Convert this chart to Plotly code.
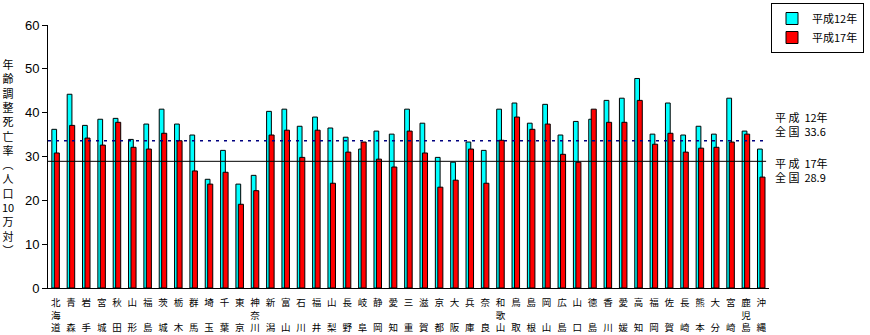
import plotly.graph_objects as go

prefectures = ["北海道", "青森", "岩手", "宮城", "秋田", "山形", "福島", "茨城", "栃木", "群馬",
               "埼玉", "千葉", "東京", "神奈川", "新潟", "富山", "石川", "福井", "山梨", "長野",
               "岐阜", "静岡", "愛知", "三重", "滋賀", "京都", "大阪", "兵庫", "奈良", "和歌山",
               "鳥取", "島根", "岡山", "広島", "山口", "徳島", "香川", "愛媛", "高知", "福岡",
               "佐賀", "長崎", "熊本", "大分", "宮崎", "鹿児島", "沖縄"]

h12 = [36.2, 44.2, 37.1, 38.5, 38.7, 33.9, 37.4, 40.8, 37.4, 34.9,
       24.8, 31.4, 23.7, 25.7, 40.3, 40.8, 36.9, 39.0, 36.5, 34.4,
       31.7, 35.8, 35.1, 40.8, 37.6, 29.8, 28.7, 33.3, 31.4, 40.8,
       42.2, 37.6, 41.9, 34.9, 38.0, 38.5, 42.8, 43.3, 47.8, 35.1,
       42.2, 34.9, 36.9, 35.1, 43.3, 35.8, 31.7]

h17 = [30.8, 37.1, 34.2, 32.6, 37.8, 32.1, 31.7, 35.3, 33.6, 26.7,
       23.7, 26.4, 19.1, 22.2, 34.9, 36.0, 29.8, 36.0, 23.9, 31.0,
       33.3, 29.4, 27.6, 35.8, 30.8, 23.0, 24.6, 31.7, 23.9, 33.7,
       39.0, 36.2, 37.4, 30.5, 28.7, 40.8, 37.8, 37.8, 42.8, 32.8,
       35.3, 31.0, 31.9, 32.1, 33.3, 35.1, 25.3]

national_12 = 33.6
national_17 = 28.9

series_names = ["平成12年", "平成17年"]
y_title_chars = ["年", "齢", "調", "整", "死", "亡", "率", "︵", "人", "口", "10", "万", "対", "︶"]


def vertical_label(name):
    if len(name) == 2:
        return name[0] + "<br>　<br>" + name[1]
    return "<br>".join(name)


tick_text = [vertical_label(p) for p in prefectures]
xs = list(range(len(prefectures)))

fig = go.Figure()
fig.add_trace(go.Bar(x=xs, y=h12, name=series_names[0], marker=dict(color="#00FFFF", line=dict(color="black", width=1)),
                     width=0.31, offset=-0.25))
fig.add_trace(go.Bar(x=xs, y=h17, name=series_names[1], marker=dict(color="#FF0000", line=dict(color="black", width=1)),
                     width=0.33, offset=-0.09))

fig.add_shape(type="line", xref="paper", yref="y", x0=0, x1=0.996, y0=national_12, y1=national_12,
              line=dict(color="#000080", width=1.5, dash="3px,5px"))
fig.add_shape(type="line", xref="paper", yref="y", x0=0, x1=0.996, y0=national_17, y1=national_17,
              line=dict(color="black", width=1))

cjk = "Noto Sans CJK JP"
fig.add_annotation(xref="paper", yref="y", x=1.006, y=national_12, xanchor="left", yanchor="bottom", yshift=0,
                   text=f"平 成  12年<br>全 国  {national_12}", showarrow=False, align="left",
                   font=dict(family=cjk, size=11, color="black"))
fig.add_annotation(xref="paper", yref="y", x=1.006, y=national_17, xanchor="left", yanchor="top", yshift=8,
                   text=f"平 成  17年<br>全 国  {national_17}", showarrow=False, align="left",
                   font=dict(family=cjk, size=11, color="black"))

fig.add_annotation(xref="paper", yref="paper", x=-0.055, y=0.5, xanchor="center", yanchor="middle",
                   text="<br>".join(y_title_chars),
                   showarrow=False, font=dict(family=cjk, size=11, color="black"))

fig.update_layout(
    width=870, height=335,
    margin=dict(l=48, r=101, t=25, b=47, autoexpand=False),
    plot_bgcolor="white", paper_bgcolor="white",
    barmode="overlay",
    showlegend=True,
    legend=dict(xref="container", yref="container", x=864 / 870, y=1 - 3 / 335, xanchor="right", yanchor="top",
                bordercolor="black", borderwidth=1,
                bgcolor="white", font=dict(family=cjk, size=11, color="black"), tracegroupgap=0,
                itemwidth=30),
)
fig.update_xaxes(range=[-0.5, len(prefectures) - 0.5], tickmode="array", tickvals=xs, ticktext=tick_text,
                 showline=True, linecolor="black", linewidth=1, ticks="", showgrid=False, zeroline=False,
                 automargin=False, tickangle=0, ticklabelstandoff=6,
                 tickfont=dict(family=cjk, size=9.5, color="black"))
fig.update_yaxes(range=[0, 60], dtick=10, showline=True, linecolor="black", linewidth=1, ticks="outside",
                 ticklen=5, tickcolor="black", showgrid=False, zeroline=False, automargin=False,
                 tickfont=dict(family="Liberation Sans", size=13, color="black"))

fig.write_html("out.html")
